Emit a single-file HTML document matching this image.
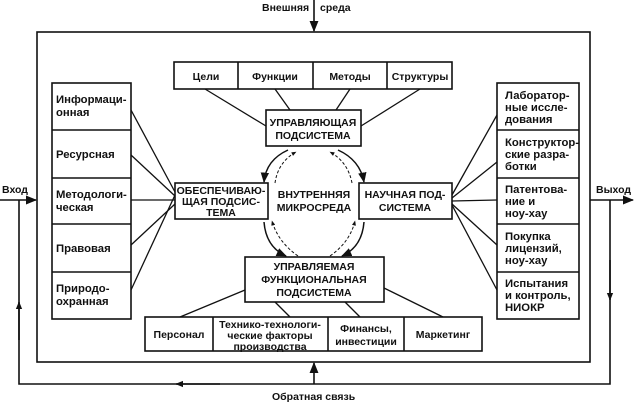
<!DOCTYPE html>
<html><head><meta charset="utf-8"><style>
html,body{margin:0;padding:0;background:#fff}
svg{display:block}
text{font-family:"Liberation Sans",Arial,sans-serif;font-size:10.5px;fill:#111}
.b{font-weight:bold}
.c{font-size:11.3px}
</style></head><body>
<svg width="634" height="404" viewBox="0 0 634 404" xmlns="http://www.w3.org/2000/svg">
<defs>
<marker id="a" viewBox="0 0 10 10" refX="9" refY="5" markerWidth="7" markerHeight="7" orient="auto-start-reverse"><path d="M0,1 L10,5 L0,9 z" fill="#111"/></marker>
<marker id="s" viewBox="0 0 10 10" refX="9" refY="5" markerWidth="5" markerHeight="5" orient="auto"><path d="M0,1 L10,5 L0,9 z" fill="#111"/></marker>
</defs>
<g stroke="#111" fill="none" stroke-width="1.6">
<rect x="37" y="32" width="553" height="330"/>
<line x1="314" y1="0" x2="314" y2="31" marker-end="url(#a)"/>
<line x1="0" y1="200" x2="36" y2="200" marker-end="url(#a)"/>
<line x1="590" y1="200" x2="633" y2="200" marker-end="url(#a)"/>
<polyline points="610,200 610,384 19,384 19,200"/>
<line x1="610" y1="260" x2="610" y2="300" marker-end="url(#s)"/>
<line x1="220" y1="384" x2="176" y2="384" marker-end="url(#s)"/>
<line x1="19" y1="340" x2="19" y2="302" marker-end="url(#s)"/>
<line x1="314" y1="384" x2="314" y2="363" marker-end="url(#a)"/>
<rect x="52" y="83" width="79" height="236"/>
<line x1="52" y1="130" x2="131" y2="130"/><line x1="52" y1="178" x2="131" y2="178"/>
<line x1="52" y1="224" x2="131" y2="224"/><line x1="52" y1="272" x2="131" y2="272"/>
<rect x="497" y="83" width="82" height="236"/>
<line x1="497" y1="130" x2="579" y2="130"/><line x1="497" y1="178" x2="579" y2="178"/>
<line x1="497" y1="224" x2="579" y2="224"/><line x1="497" y1="272" x2="579" y2="272"/>
<rect x="174" y="62" width="278" height="27"/>
<line x1="238" y1="62" x2="238" y2="89"/><line x1="313" y1="62" x2="313" y2="89"/><line x1="387" y1="62" x2="387" y2="89"/>
<rect x="145" y="317" width="337" height="34"/>
<line x1="213" y1="317" x2="213" y2="351"/><line x1="328" y1="317" x2="328" y2="351"/><line x1="404" y1="317" x2="404" y2="351"/>
<rect x="266" y="110" width="95" height="36"/>
<rect x="175" y="183" width="93" height="36"/>
<rect x="359" y="183" width="93" height="36"/>
<rect x="245" y="257" width="139" height="45"/>
<g stroke-width="1.3">
<line x1="131" y1="110" x2="175" y2="192"/>
<line x1="131" y1="155" x2="175" y2="196"/>
<line x1="131" y1="200" x2="175" y2="200"/>
<line x1="131" y1="245" x2="175" y2="204"/>
<line x1="131" y1="290" x2="175" y2="195"/>
<line x1="497" y1="115" x2="452" y2="195"/>
<line x1="497" y1="162" x2="452" y2="198"/>
<line x1="497" y1="200" x2="452" y2="201"/>
<line x1="497" y1="245" x2="452" y2="204"/>
<line x1="497" y1="290" x2="452" y2="205"/>
<line x1="205" y1="89" x2="266" y2="126"/>
<line x1="275" y1="89" x2="290" y2="110"/>
<line x1="350" y1="89" x2="336" y2="110"/>
<line x1="420" y1="89" x2="361" y2="126"/>
<line x1="245" y1="290" x2="180" y2="317"/>
<line x1="275" y1="302" x2="290" y2="317"/>
<line x1="345" y1="302" x2="360" y2="317"/>
<line x1="384" y1="288" x2="443" y2="317"/>
</g>
<g stroke-width="1.5">
<path d="M288,150 Q266,160 264,182" marker-end="url(#a)"/>
<path d="M338,150 Q360,160 364,182" marker-end="url(#a)"/>
<path d="M364,222 Q362,247 342,256" marker-end="url(#a)"/>
<path d="M264,222 Q266,247 286,256" marker-end="url(#a)"/>
</g>
<g stroke-width="1" stroke-dasharray="3,2">
<path d="M275,183 Q278,162 296,152" marker-end="url(#s)"/>
<path d="M352,183 Q348,162 330,152" marker-end="url(#s)"/>
<path d="M330,256 Q350,242 355,221" marker-end="url(#s)"/>
<path d="M298,256 Q278,242 272,221" marker-end="url(#s)"/>
</g>
</g>
<g>
<text x="262" y="11" class="b">Внешняя</text>
<text x="320" y="11" class="b">среда</text>
<text x="2" y="193" class="b">Вход</text>
<text x="596" y="193" class="b">Выход</text>
<text x="272" y="400" class="b">Обратная связь</text>
<text x="206" y="80" text-anchor="middle" class="b">Цели</text>
<text x="275" y="80" text-anchor="middle" class="b">Функции</text>
<text x="350" y="80" text-anchor="middle" class="b">Методы</text>
<text x="420" y="80" text-anchor="middle" class="b">Структуры</text>
<g class="c">
<text x="56" y="103" class="b c">Информаци-</text><text x="56" y="116" class="b c">онная</text>
<text x="56" y="158" class="b c">Ресурсная</text>
<text x="56" y="198" class="b c">Методологи-</text><text x="56" y="211" class="b c">ческая</text>
<text x="56" y="252" class="b c">Правовая</text>
<text x="56" y="292" class="b c">Природо-</text><text x="56" y="305" class="b c">охранная</text>
<text x="505" y="99" class="b c">Лаборатор-</text><text x="505" y="111" class="b c">ные иссле-</text><text x="505" y="123" class="b c">дования</text>
<text x="505" y="146" class="b c">Конструктор-</text><text x="505" y="158" class="b c">ские разра-</text><text x="505" y="170" class="b c">ботки</text>
<text x="505" y="193" class="b c">Патентова-</text><text x="505" y="205" class="b c">ние и</text><text x="505" y="217" class="b c">ноу-хау</text>
<text x="505" y="240" class="b c">Покупка</text><text x="505" y="252" class="b c">лицензий,</text><text x="505" y="264" class="b c">ноу-хау</text>
<text x="505" y="287" class="b c">Испытания</text><text x="505" y="299" class="b c">и контроль,</text><text x="505" y="311" class="b c">НИОКР</text>
</g>
<text x="313" y="126" text-anchor="middle" class="b">УПРАВЛЯЮЩАЯ</text><text x="313" y="139" text-anchor="middle" class="b">ПОДСИСТЕМА</text>
<text x="221" y="194" text-anchor="middle" class="b">ОБЕСПЕЧИВАЮ-</text><text x="221" y="205" text-anchor="middle" class="b">ЩАЯ ПОДСИС-</text><text x="221" y="216" text-anchor="middle" class="b">ТЕМА</text>
<text x="405" y="198" text-anchor="middle" class="b">НАУЧНАЯ ПОД-</text><text x="405" y="211" text-anchor="middle" class="b">СИСТЕМА</text>
<text x="314" y="198" text-anchor="middle" class="b">ВНУТРЕННЯЯ</text><text x="314" y="211" text-anchor="middle" class="b">МИКРОСРЕДА</text>
<text x="314" y="270" text-anchor="middle" class="b">УПРАВЛЯЕМАЯ</text><text x="314" y="283" text-anchor="middle" class="b">ФУНКЦИОНАЛЬНАЯ</text><text x="314" y="296" text-anchor="middle" class="b">ПОДСИСТЕМА</text>
<text x="179" y="338" text-anchor="middle" class="b">Персонал</text>
<text x="270" y="328" text-anchor="middle" class="b">Технико-технологи-</text><text x="270" y="339" text-anchor="middle" class="b">ческие факторы</text><text x="270" y="350" text-anchor="middle" class="b">производства</text>
<text x="366" y="332" text-anchor="middle" class="b">Финансы,</text><text x="366" y="345" text-anchor="middle" class="b">инвестиции</text>
<text x="443" y="338" text-anchor="middle" class="b">Маркетинг</text>
</g>
</svg>
</body></html>
